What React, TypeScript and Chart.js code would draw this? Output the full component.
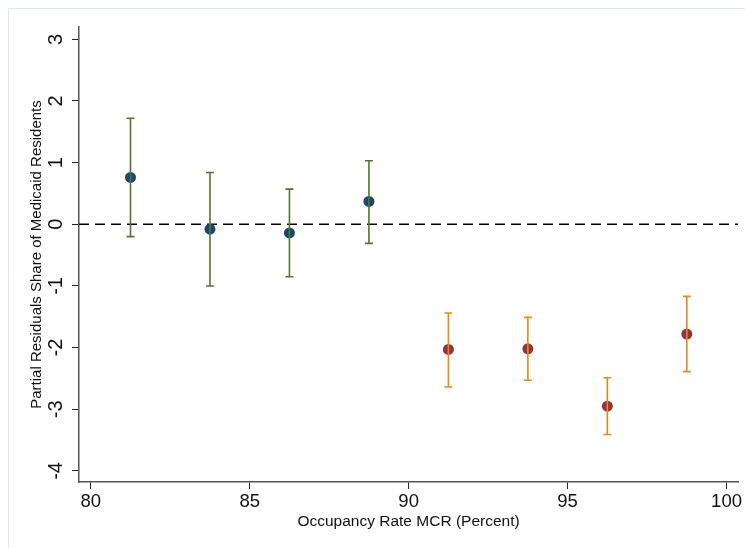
import React, { useEffect, useRef } from "react";
import { Chart, registerables } from "chart.js";

Chart.register(...registerables);

// Group A (below 90% occupancy)
const xA = [81.25, 83.75, 86.25, 88.75];
const yA = [0.76, -0.08, -0.14, 0.37];
const loA = [-0.2, -1.0, -0.85, -0.31];
const hiA = [1.72, 0.84, 0.57, 1.03];

// Group B (90% occupancy and above)
const xB = [91.25, 93.75, 96.25, 98.75];
const yB = [-2.03, -2.02, -2.95, -1.78];
const loB = [-2.64, -2.53, -3.41, -2.39];
const hiB = [-1.44, -1.51, -2.49, -1.17];

const xTicks = [80, 85, 90, 95, 100];
const yTicks = [-4, -3, -2, -1, 0, 1, 2, 3];

const xTitle = "Occupancy Rate MCR (Percent)";
const yTitle = "Partial Residuals Share of Medicaid Residents";

const NAVY = "#1a476f";
const MAROON = "#90353b";
const GREEN = "#55752f";
const ORANGE = "#e8881a";
const FONT = "'Liberation Sans', Arial, sans-serif";

const W = 737;
const H = 540;

export default function App() {
  const ref = useRef<HTMLCanvasElement | null>(null);

  useEffect(() => {
    document.documentElement.style.overflow = "hidden";
    document.body.style.overflow = "hidden";
    if (!ref.current) return;

    const frame = {
      id: "frame",
      beforeDraw(chart: any) {
        const ctx = chart.ctx;
        ctx.save();
        ctx.strokeStyle = "#dde9ea";
        ctx.lineWidth = 1;
        ctx.beginPath();
        ctx.moveTo(0.5, H);
        ctx.lineTo(0.5, 0.5);
        ctx.lineTo(W, 0.5);
        ctx.stroke();
        ctx.restore();
      },
    };

    const zeroLine = {
      id: "zeroLine",
      beforeDatasetsDraw(chart: any) {
        const { ctx, chartArea, scales } = chart;
        const y = scales.y.getPixelForValue(0);
        ctx.save();
        ctx.strokeStyle = "#000";
        ctx.lineWidth = 1.5;
        ctx.setLineDash([10, 6]);
        ctx.beginPath();
        ctx.moveTo(chartArea.left, y);
        ctx.lineTo(chartArea.right, y);
        ctx.stroke();
        ctx.restore();
      },
    };

    const errorBars = {
      id: "errorBars",
      afterDatasetsDraw(chart: any) {
        const { ctx, scales } = chart;
        const groups = [
          { xs: xA, lo: loA, hi: hiA, color: GREEN },
          { xs: xB, lo: loB, hi: hiB, color: ORANGE },
        ];
        ctx.save();
        ctx.lineWidth = 1.6;
        for (const g of groups) {
          ctx.strokeStyle = g.color;
          g.xs.forEach((xv, i) => {
            const px = scales.x.getPixelForValue(xv);
            const pLo = scales.y.getPixelForValue(g.lo[i]);
            const pHi = scales.y.getPixelForValue(g.hi[i]);
            ctx.beginPath();
            ctx.moveTo(px, pLo);
            ctx.lineTo(px, pHi);
            ctx.moveTo(px - 4, pLo);
            ctx.lineTo(px + 4, pLo);
            ctx.moveTo(px - 4, pHi);
            ctx.lineTo(px + 4, pHi);
            ctx.stroke();
          });
        }
        ctx.restore();
      },
    };

    const chart = new Chart(ref.current, {
      type: "scatter",
      data: {
        datasets: [
          {
            label: "A",
            data: xA.map((x, i) => ({ x, y: yA[i] })),
            backgroundColor: NAVY,
            borderWidth: 0,
            pointRadius: 5.5,
          },
          {
            label: "B",
            data: xB.map((x, i) => ({ x, y: yB[i] })),
            backgroundColor: MAROON,
            borderWidth: 0,
            pointRadius: 5.5,
          },
        ],
      },
      options: {
        responsive: false,
        animation: false,
        layout: { padding: { top: 19, right: 7, left: 0, bottom: 0 } },
        plugins: {
          legend: { display: false },
          tooltip: { enabled: false },
        },
        scales: {
          x: {
            type: "linear",
            min: 79.63,
            max: 100.36,
            afterBuildTicks: (s: any) => {
              s.ticks = xTicks.map((v) => ({ value: v }));
            },
            afterFit: (s: any) => {
              s.height = 66;
            },
            ticks: {
              color: "#111",
              font: { family: FONT, size: 18.5 },
              padding: 2,
              maxRotation: 0,
              autoSkip: false,
            },
            grid: {
              drawOnChartArea: false,
              drawTicks: true,
              tickLength: 7,
              color: "#222",
              lineWidth: 1,
            },
            border: { display: true, color: "#555", width: 1.5 },
            title: {
              display: true,
              text: xTitle,
              color: "#111",
              font: { family: FONT, size: 15.5 },
              padding: { top: 0, bottom: 17 },
            },
          },
          y: {
            type: "linear",
            min: -4.18,
            max: 3.2,
            afterBuildTicks: (s: any) => {
              s.ticks = yTicks.map((v) => ({ value: v }));
            },
            afterFit: (s: any) => {
              s.width = 71;
            },
            ticks: {
              color: "#111",
              font: { family: FONT, size: 20 },
              padding: 7,
              minRotation: 90,
              maxRotation: 90,
              crossAlign: "center",
              autoSkip: false,
            },
            grid: {
              drawOnChartArea: false,
              drawTicks: true,
              tickLength: 7,
              color: "#222",
              lineWidth: 1,
            },
            border: { display: true, color: "#555", width: 1.5 },
            title: {
              display: true,
              text: yTitle,
              color: "#111",
              font: { family: FONT, size: 15 },
              padding: { top: 20, bottom: 0 },
            },
          },
        },
      } as any,
      plugins: [frame, zeroLine, errorBars],
    });

    return () => chart.destroy();
  }, []);

  return (
    <canvas
      ref={ref}
      width={W}
      height={H}
      style={{ display: "block", position: "fixed", left: 8, top: 8, width: W, height: H }}
    />
  );
}
